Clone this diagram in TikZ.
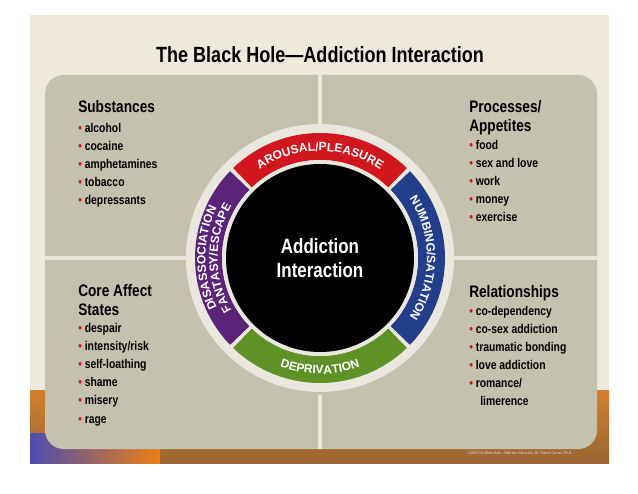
\documentclass[tikz,border=0pt]{standalone}
\usepackage{fontspec}
\setmainfont[FakeStretch=0.82]{Liberation Sans}
\newfontfamily\ringfont{Liberation Sans}
\usetikzlibrary{decorations.text}
\definecolor{panel}{HTML}{C4C1AE}
\definecolor{beige}{HTML}{EFE9DC}
\definecolor{rred}{HTML}{D2161E}
\definecolor{rblue}{HTML}{233F8C}
\definecolor{rgreen}{HTML}{5E9126}
\definecolor{rpurple}{HTML}{5B2479}
\definecolor{bul}{HTML}{D2161E}
\definecolor{divl}{HTML}{E9E7DE}
\tikzset{
  head/.style={anchor=base west,font=\fontsize{12.5}{14}\selectfont\bfseries,inner sep=0},
  item/.style={anchor=base west,font=\fontsize{9.5}{11}\selectfont\bfseries,inner sep=0},
  divider/.style={draw=divl,line width=3.5pt},
  ringtext/.style={decoration={text along path,text align=center,text={#1}},decorate}
}
\newcommand{\bl}{{\color{bul}\textbullet}\ }
\newcommand{\rf}{\fontsize{9}{11}\selectfont\bfseries\color{white}}
\begin{document}
\begin{tikzpicture}[x=0.75pt,y=0.75pt]
\useasboundingbox (0,0) rectangle (638,493);
\fill[white] (0,0) rectangle (638,493);
% slide background
\fill[beige] (30,30) rectangle (609,478);
\shade[top color=brown!70!orange, bottom color=brown!80!black] (30,30) rectangle (609,103);
\shade[left color=gray!60!blue, right color=orange!70!brown] (30,30) rectangle (160,60);
% panel
\fill[panel,rounded corners=14pt] (45,44) rectangle (597,418);
\draw[divider] (320,418) -- (320,364);
\draw[divider] (320,44) -- (320,98);
\draw[divider] (45,235) -- (190,235);
\draw[divider] (450,235) -- (597,235);
% title
\node[font=\fontsize{16.5}{18}\selectfont\bfseries] (title) at (320,438) {The Black Hole---Addiction Interaction};
% ring
\coordinate (c) at (320,235);
\fill[divl] (c) circle (134);
\fill[rred] (c) ++(46:125) arc (46:134:125) -- ++(134:-27) arc (134:46:98) -- cycle;
\fill[rpurple] (c) ++(136:125) arc (136:224:125) -- ++(224:-27) arc (224:136:98) -- cycle;
\fill[rgreen] (c) ++(226:125) arc (226:314:125) -- ++(314:-27) arc (314:226:98) -- cycle;
\fill[rblue] (c) ++(316:125) arc (316:404:125) -- ++(44:-27) arc (404:316:98) -- cycle;
\fill[divl] (c) circle (98);
\fill[black] (c) circle (94);
\node[text=white,align=center,font=\fontsize{15.5}{18}\selectfont\bfseries] (center) at (c) {Addiction\\Interaction};
\path[ringtext={|\ringfont\rf|AROUSAL/PLEASURE}] (c) ++(134:107) arc (134:46:107);
\path[ringtext={|\ringfont\rf|NUMBING/SATIATION}] (c) ++(44:107) arc (44:-44:107);
\path[ringtext={|\ringfont\rf|DEPRIVATION}] (c) ++(226:116) arc (226:314:116);
\path[ringtext={|\ringfont\rf|DISASSOCIATION}] (c) ++(224:114.5) arc (224:136:114.5);
\path[ringtext={|\ringfont\rf|FANTASY/ESCAPE}] (c) ++(224:102.5) arc (224:136:102.5);
% top left
\node[head] (sub) at (78,380) {Substances};
\node[item] (s1) at (78,360) {\bl alcohol};
\node[item] (s2) at (78,342) {\bl cocaine};
\node[item] (s3) at (78,324) {\bl amphetamines};
\node[item] (s4) at (78,306) {\bl tobacco};
\node[item] (s5) at (78,288) {\bl depressants};
% top right
\node[head] (pro) at (469,380) {Processes/};
\node[head] (app) at (469,361) {Appetites};
\node[item] (p1) at (469,343) {\bl food};
\node[item] (p2) at (469,325) {\bl sex and love};
\node[item] (p3) at (469,307) {\bl work};
\node[item] (p4) at (469,289) {\bl money};
\node[item] (p5) at (469,271) {\bl exercise};
% bottom left
\node[head] (core) at (78,197) {Core Affect};
\node[head] (st) at (78,178) {States};
\node[item] (c1) at (78,161) {\bl despair};
\node[item] (c2) at (78,143) {\bl intensity/risk};
\node[item] (c3) at (78,125) {\bl self-loathing};
\node[item] (c4) at (78,107) {\bl shame};
\node[item] (c5) at (78,89) {\bl misery};
\node[item] (c6) at (78,70) {\bl rage};
% bottom right
\node[head] (rel) at (469,196) {Relationships};
\node[item] (r1) at (469,178) {\bl co-dependency};
\node[item] (r2) at (469,160) {\bl co-sex addiction};
\node[item] (r3) at (469,142) {\bl traumatic bonding};
\node[item] (r4) at (469,124) {\bl love addiction};
\node[item] (r5) at (469,106) {\bl romance/};
\node[item] (r6) at (480,88) {limerence};
\node[font=\fontsize{3}{4}\selectfont,text=white!85!black] (copy) at (520,40) {©2004 The Black Hole - Addiction Interaction, Dr. Patrick Carnes, Ph.D.};
\end{tikzpicture}
\end{document}
